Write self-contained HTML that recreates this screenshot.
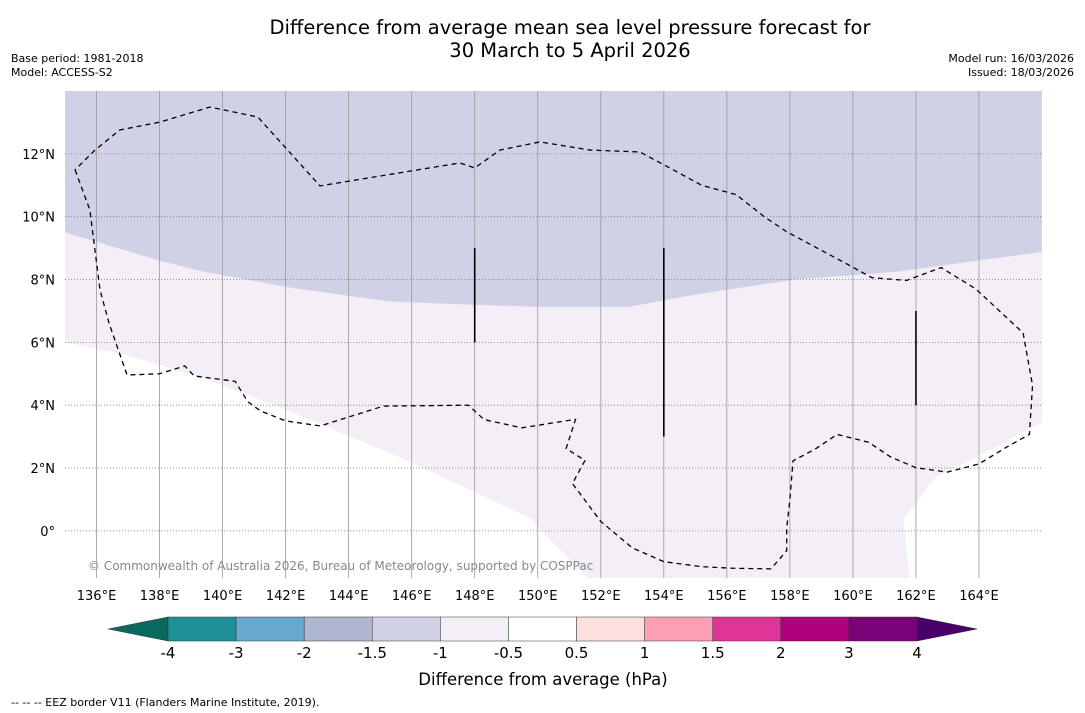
<!DOCTYPE html>
<html><head><meta charset="utf-8"><style>
body{margin:0;background:#fff;font-family:"DejaVu Sans","Liberation Sans",sans-serif;}
svg{display:block}
</style></head><body>
<svg id="chart" width="1085" height="713" xmlns="http://www.w3.org/2000/svg">
<text x="570" y="34" text-anchor="middle" font-size="19.5">Difference from average mean sea level pressure forecast for</text>
<text x="570" y="57" text-anchor="middle" font-size="19.5">30 March to 5 April 2026</text>
<text x="11" y="62" font-size="11">Base period: 1981-2018</text>
<text x="11" y="76" font-size="11">Model: ACCESS-S2</text>
<text x="1074" y="62" font-size="11" text-anchor="end">Model run: 16/03/2026</text>
<text x="1074" y="76" font-size="11" text-anchor="end">Issued: 18/03/2026</text>
<g id="map"></g>
<g id="cbar"></g>
<text x="543" y="685" text-anchor="middle" font-size="16.5">Difference from average (hPa)</text>
<text x="11" y="706" font-size="11">--  --  -- EEZ border V11 (Flanders Marine Institute, 2019).</text>
</svg>
<script>
const lonTicks=[136,138,140,142,144,146,148,150,152,154,156,158,160,162,164];
const latTicks=[0,2,4,6,8,10,12];
// boundary of -1.5..-1 band (lower edge), lon/lat
const darkEdgeLon=[135,138,139.3,142.1,145.3,147.8,150,152.9,155.1,158.2,161.4,166];
const darkEdgeLat=[9.5,8.6,8.27,7.75,7.3,7.2,7.13,7.13,7.54,8.0,8.25,8.88];
// boundary of -1..-0.5 band (lower edge)
const lightEdgeLon=[135,136.75,139.3,141.8,145.6,149.7,151.6,161.8,161.6,162.6,164.35,166];
const lightEdgeLat=[6.0,5.65,4.89,3.94,2.35,0.44,-1.5,-1.5,0.35,1.68,2.57,3.46];
// dashed EEZ contour
const eezLon=[135.32,135.79,136.11,136.4,136.97,138,138.8,139.1,140.4,140.8,141.2,142,143.1,145.1,147.8,148.3,149.5,151.2,150.9,151.5,151.1,152,153,154,155.2,156.2,157.4,157.9,157.9,158,158.1,158.8,159.5,160.5,161.2,162,163,164,164.9,165.6,165.7,165.4,163.9,162.8,161.7,160.6,159.8,157.9,157.2,156.3,155.2,154.19,153.24,151.66,150.07,148.8,148.0,147.53,143.09,141.12,139.6,138.01,136.74,135.95];
const eezLat=[11.49,10.21,7.67,6.6,4.96,5.0,5.25,4.93,4.76,4.11,3.82,3.5,3.34,3.97,4.0,3.54,3.28,3.55,2.62,2.24,1.51,0.3,-0.54,-0.98,-1.14,-1.19,-1.21,-0.63,0.1,0.99,2.23,2.6,3.07,2.82,2.35,2.01,1.87,2.13,2.68,3.07,4.63,6.3,7.7,8.38,7.97,8.06,8.5,9.52,9.99,10.7,11.0,11.55,12.06,12.12,12.38,12.12,11.55,11.71,10.98,13.17,13.49,13.01,12.76,12.12];
const barLon=[148,154,162];
const barTop=[9,9,7];
const barBot=[6,3,4];
const cbLabels=["-4","-3","-2","-1.5","-1","-0.5","0.5","1","1.5","2","3","4"];
const cbColors=["#1f9096","#67a9cf","#aeb6d0","#d0d1e6","#f4eef6","#ffffff","#fde0dd","#fa9fb5","#dd3497","#ae017e","#7a0177"];
const X0=65,X1=1042,Y0=91,Y1=578;
const x=l=>X0+(l-135)*(X1-X0)/31;
const y=p=>Y0+(14-p)*(Y1-Y0)/15.5;
const NS="http://www.w3.org/2000/svg";
function el(t,a,p){const e=document.createElementNS(NS,t);for(const k in a)e.setAttribute(k,a[k]);p.appendChild(e);return e;}
const map=document.getElementById('map');
function pts(lo,la){return lo.map((v,i)=>x(v)+','+y(la[i])).join(' ');}
let e=el('rect',{x:X0,y:Y0,width:X1-X0,height:Y1-Y0,fill:'#fff'},map);

e=el('polygon',{points:x(135)+','+y(14)+' '+x(166)+','+y(14)+' '+x(166)+','+y(-1.5)+' '+pts(lightEdgeLon.slice().reverse(),lightEdgeLat.slice().reverse()),fill:'#f4eef6'},map);

e=el('polygon',{points:x(135)+','+y(14)+' '+x(166)+','+y(14)+' '+pts(darkEdgeLon.slice().reverse(),darkEdgeLat.slice().reverse()),fill:'#d0d1e6'},map);

lonTicks.forEach(l=>{
 e=el('line',{x1:x(l),x2:x(l),y1:Y0,y2:Y1,stroke:'#999','stroke-width':0.8},map);
 
 e=el('text',{x:x(l),y:600,'text-anchor':'middle','font-size':13},map);e.textContent=l+'°E';
 
});
latTicks.forEach(p=>{
 e=el('line',{x1:X0,x2:X1,y1:y(p),y2:y(p),stroke:'#777','stroke-width':0.8,'stroke-dasharray':'1,2'},map);
 
 e=el('text',{x:55,y:y(p)+5,'text-anchor':'end','font-size':13},map);e.textContent=p===0?'0°':p+'°N';
 
});
e=el('polygon',{points:pts(eezLon,eezLat),fill:'none',stroke:'#000','stroke-width':1.3,'stroke-dasharray':'5,4'},map);

barLon.forEach((l,i)=>{
 e=el('line',{x1:x(l),x2:x(l),y1:y(barTop[i]),y2:y(barBot[i]),stroke:'#000','stroke-width':1.6},map);
 
});
e=el('text',{x:88,y:570,'font-size':12,fill:'#888'},map);e.textContent='© Commonwealth of Australia 2026, Bureau of Meteorology, supported by COSPPac';

const cb=document.getElementById('cbar');
const CB0=168,CB1=917,CT=617,CBt=641,bw=(CB1-CB0)/cbColors.length;
e=el('polygon',{points:`108,629 ${CB0},${CT} ${CB0},${CBt}`,fill:'#08695e',stroke:'#333','stroke-width':0.5},cb);

e=el('polygon',{points:`977,629 ${CB1},${CT} ${CB1},${CBt}`,fill:'#49006a',stroke:'#333','stroke-width':0.5},cb);

cbColors.forEach((c,i)=>{
 e=el('rect',{x:CB0+i*bw,y:CT,width:bw,height:CBt-CT,fill:c,stroke:'#333','stroke-width':0.5},cb);
 
});
cbLabels.forEach((t,i)=>{
 e=el('text',{x:CB0+i*bw,y:658,'text-anchor':'middle','font-size':15},cb);e.textContent=t;
 
});
</script>
</body></html>
